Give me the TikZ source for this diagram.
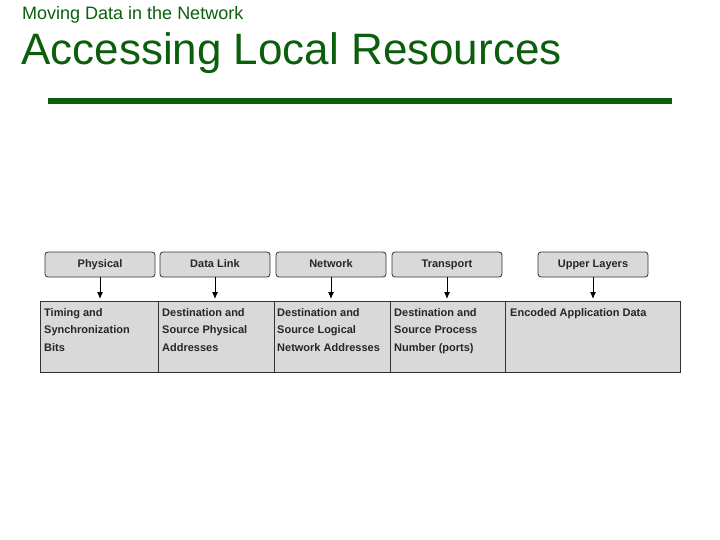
\documentclass[tikz,border=0pt]{standalone}
\usepackage{fontspec}
\usetikzlibrary{arrows.meta}
\setmainfont{Liberation Sans}
\definecolor{tgreen}{HTML}{0B5E0B}
\definecolor{bgray}{HTML}{D9D9D9}
\begin{document}
\begin{tikzpicture}[x=1pt,y=-1pt,
  layer/.style={draw=black!80,fill=bgray,rounded corners=3pt,line width=0.8pt,minimum width=110pt,minimum height=25pt,text height=8pt,text depth=2pt,font=\fontsize{11}{12}\selectfont\bfseries,text=black!85},
  cell/.style={anchor=north west,align=left,font=\fontsize{11}{17.5}\selectfont\bfseries,text=black!85,inner sep=0pt},
  arr/.style={-{Latex[length=7pt,width=6pt]},line width=1pt}]
\useasboundingbox (0,0) rectangle (720,540);
\node[anchor=west,text=tgreen,font=\fontsize{18}{20}\selectfont,inner sep=0pt] (sub) at (22,15) {Moving Data in the Network};
\node[anchor=west,text=tgreen,font=\fontsize{44}{48}\selectfont,inner sep=0pt] (title) at (21,53) {Accessing Local Resources};
\fill[tgreen] (48,98) rectangle (672,104);
\node[layer] (p) at (100,264.5) {Physical};
\node[layer] (d) at (215,264.5) {Data Link};
\node[layer] (n) at (331,264.5) {Network};
\node[layer] (t) at (447,264.5) {Transport};
\node[layer] (u) at (593,264.5) {Upper Layers};
\draw[fill=bgray,draw=black!80,line width=0.8pt] (40,301) rectangle (680,372);
\foreach \x in {158,274,390,505} \draw[black!80,line width=0.8pt] (\x,301) -- (\x,372);
\coordinate (cp) at (100,299); \coordinate (cd) at (215,299); \coordinate (cn) at (331,299);
\coordinate (ct) at (447,299); \coordinate (cu) at (593,299);
\foreach \a/\b in {p/cp,d/cd,n/cn,t/ct,u/cu} \draw[arr] (\a.south) -- (\b);
\node[cell] (c1) at (44,308) {Timing and\\Synchronization\\Bits};
\node[cell] (c2) at (162,308) {Destination and\\Source Physical\\Addresses};
\node[cell] (c3) at (277,308) {Destination and\\Source Logical\\Network Addresses};
\node[cell] (c4) at (394,308) {Destination and\\Source Process\\Number (ports)};
\node[cell] (c5) at (510,308) {Encoded Application Data};
\end{tikzpicture}
\end{document}
